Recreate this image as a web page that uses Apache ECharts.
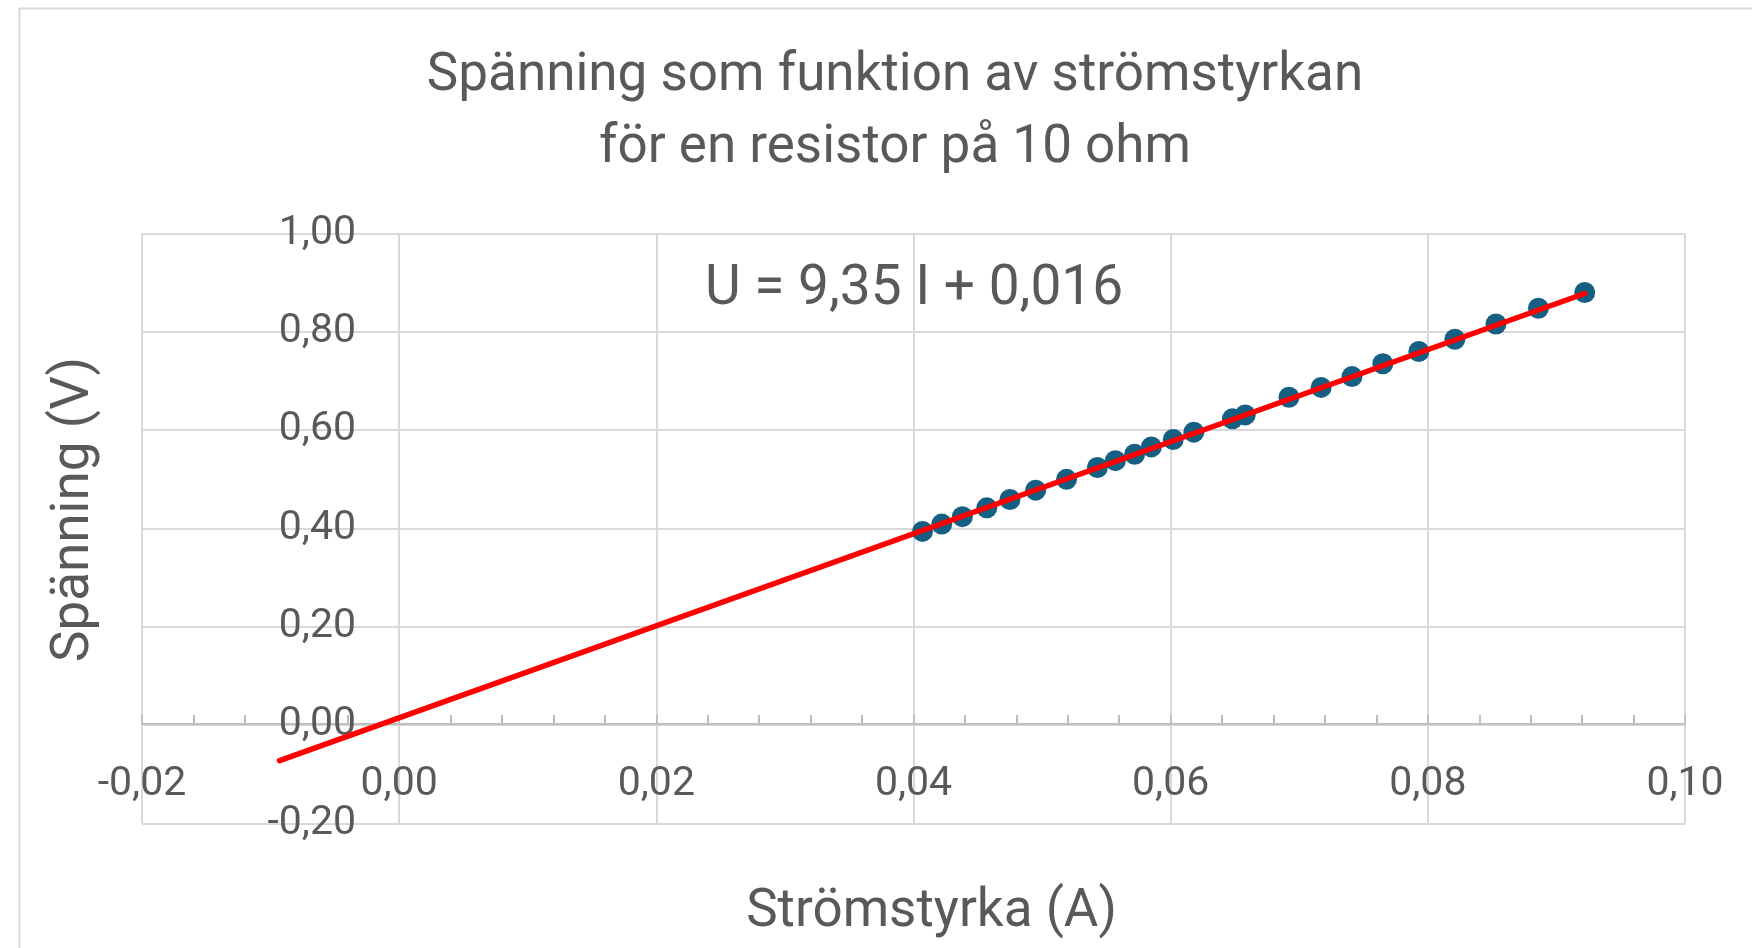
<!DOCTYPE html>
<html>
<head>
<meta charset="utf-8">
<script src="https://cdn.jsdelivr.net/npm/echarts@6/dist/echarts.min.js"></script>
<style>
html,body{margin:0;padding:0;background:#fff;}
#chart{width:1752px;height:948px;}
</style>
</head>
<body>
<div id="chart"></div>
<script>
// Measured current (A) and voltage (V)
const currentA = [0.0407, 0.0422, 0.0438, 0.0457, 0.0475, 0.0495, 0.0519, 0.0543, 0.0557, 0.0572, 0.0585, 0.0602, 0.0618, 0.0648, 0.0658, 0.0692, 0.0717, 0.0741, 0.0765, 0.0793, 0.0821, 0.0853, 0.0886, 0.0922];
const voltageV = [0.394, 0.409, 0.424, 0.442, 0.459, 0.478, 0.500, 0.524, 0.538, 0.551, 0.566, 0.581, 0.596, 0.623, 0.631, 0.667, 0.687, 0.709, 0.735, 0.760, 0.785, 0.816, 0.848, 0.880];
// Linear trendline endpoints (U = 9,35 I + 0,016)
const trendX = [-0.0093, 0.0922];
const trendY = [-0.072, 0.878];
const xTicks = {min: -0.02, max: 0.10, interval: 0.02};
const yTicks = {min: -0.2, max: 1.0, interval: 0.2};
const titleLines = ['Spänning som funktion av strömstyrkan', 'för en resistor på 10 ohm'];
const equationText = 'U = 9,35 I + 0,016';
const xName = 'Strömstyrka (A)';
const yName = 'Spänning (V)';

const FONT = 'Roboto';
const TXT = '#595959';
const GRID = '#d9d9d9';
const fmt = v => v.toFixed(2).replace('.', ',');

const chart = echarts.init(document.getElementById('chart'), null, {renderer: 'canvas'});
chart.setOption({
  animation: false,
  backgroundColor: '#fff',
  title: {
    text: titleLines.join('\n'),
    left: 890, top: 36, textAlign: 'center',
    textStyle: {fontFamily: FONT, fontSize: 53, fontWeight: 'normal', color: TXT, lineHeight: 72}
  },
  grid: {left: 142, right: 67, top: 233.5, bottom: 124.5, containLabel: false, outerBoundsMode: 'none'},
  xAxis: {
    type: 'value', min: xTicks.min, max: xTicks.max, interval: xTicks.interval,
    position: 'bottom', offset: -99.5,
    name: xName, nameLocation: 'middle', nameGap: 162,
    nameTextStyle: {fontFamily: FONT, fontSize: 53, color: TXT, padding: [0, 0, 0, 36]},
    axisLine: {onZero: false, lineStyle: {color: '#bfbfbf', width: 2}},
    axisTick: {show: true, inside: true, length: 9, lineStyle: {color: '#bfbfbf', width: 2}},
    minorTick: {show: true, splitNumber: 5, length: 9, lineStyle: {color: '#bfbfbf', width: 2}},
    axisLabel: {formatter: fmt, fontFamily: FONT, fontSize: 41, color: TXT, margin: 40},
    splitLine: {show: true, lineStyle: {color: GRID, width: 2}}
  },
  yAxis: {
    type: 'value', min: yTicks.min, max: yTicks.max, interval: yTicks.interval,
    position: 'left', offset: -257,
    name: yName, nameLocation: 'middle', nameGap: 298, nameRotate: 90,
    nameTextStyle: {fontFamily: FONT, fontSize: 53, color: TXT, padding: [0, 0, 0, 38]},
    axisLine: {onZero: false, lineStyle: {color: GRID, width: 2}},
    axisTick: {show: false},
    axisLabel: {formatter: fmt, fontFamily: FONT, fontSize: 41, color: TXT, margin: 43},
    splitLine: {show: true, lineStyle: {color: GRID, width: 2}}
  },
  graphic: [
    {type: 'rect', left: 17, top: 6, shape: {width: 1800, height: 1000},
     style: {fill: 'none', stroke: GRID, lineWidth: 2}, silent: true, z: -10},
    {type: 'text', x: 914, y: 290,
     style: {text: equationText, fontFamily: FONT, fontSize: 55, fill: TXT, textAlign: 'center', textVerticalAlign: 'middle'}}
  ],
  series: [
    {
      type: 'scatter', symbol: 'circle', symbolSize: 21,
      itemStyle: {color: '#156082', opacity: 1},
      data: currentA.map((x, i) => [x, voltageV[i]])
    },
    {
      type: 'line', showSymbol: false, symbol: 'none',
      lineStyle: {color: '#ff0000', width: 5.5, cap: 'round'},
      data: trendX.map((x, i) => [x, trendY[i]]),
      z: 3
    }
  ]
});
</script>
</body>
</html>
